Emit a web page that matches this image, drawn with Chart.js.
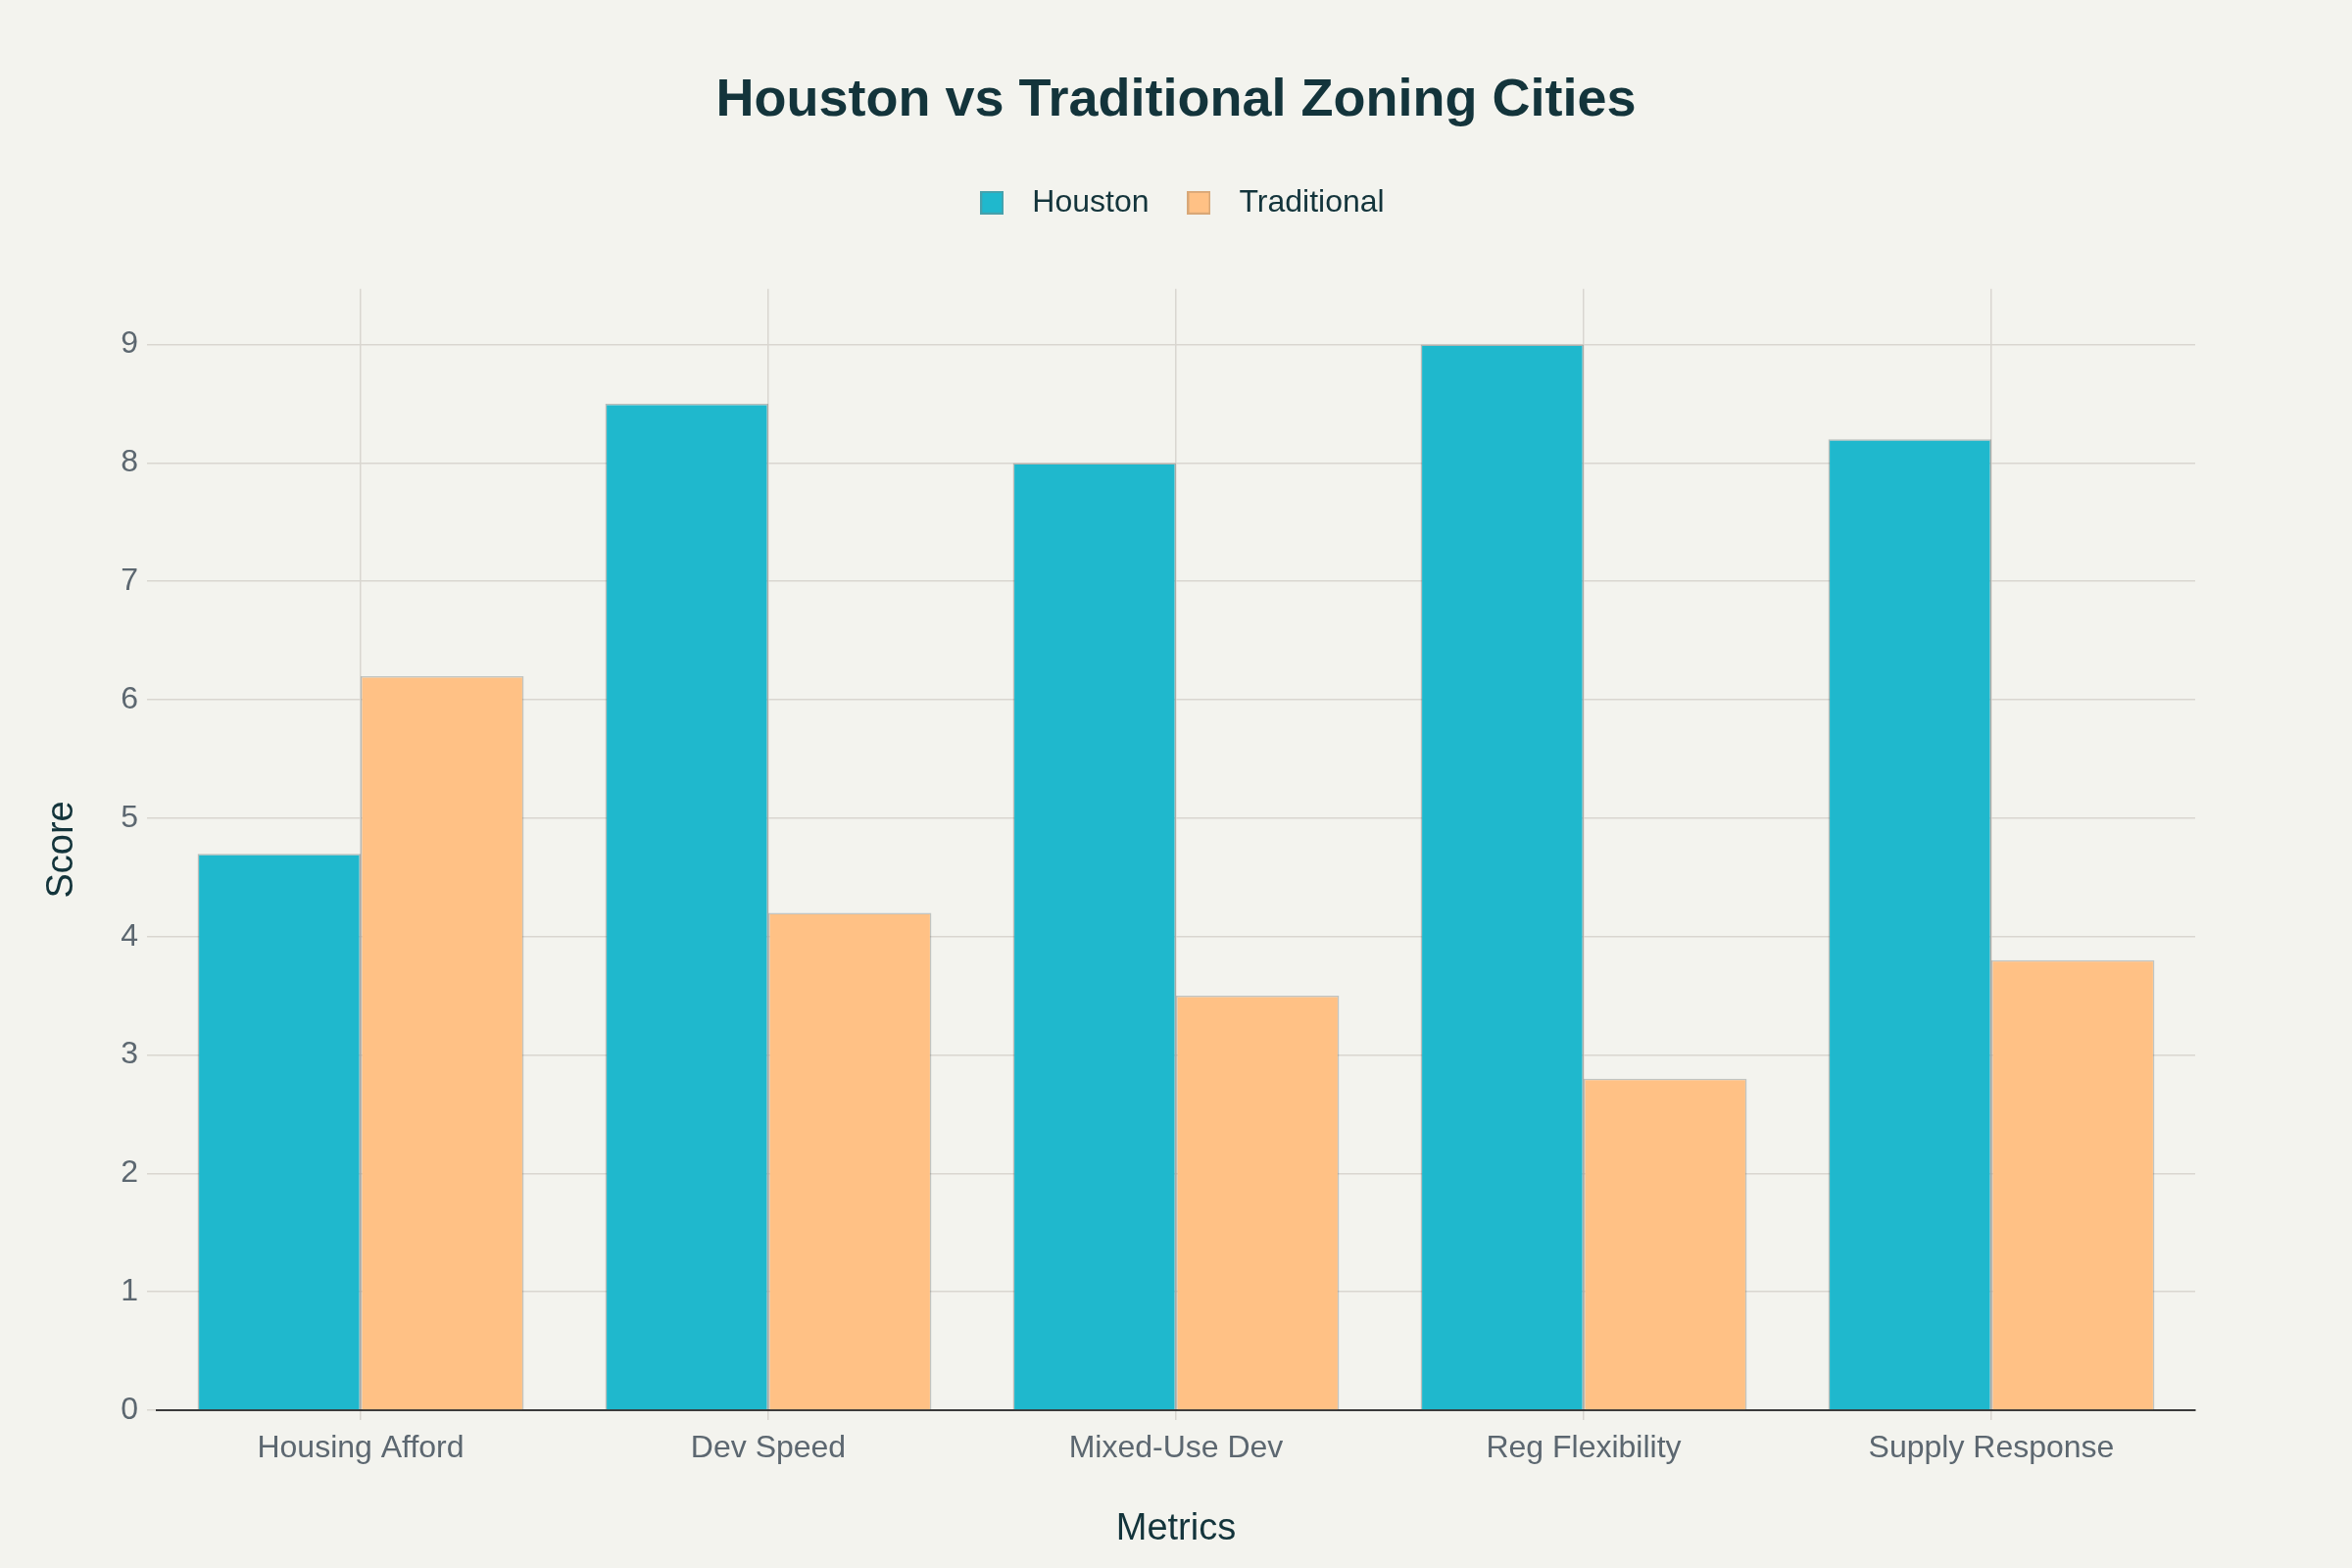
<!DOCTYPE html>
<html>
<head>
<meta charset="utf-8">
<title>Houston vs Traditional Zoning Cities</title>
<script src="https://cdn.jsdelivr.net/npm/chart.js@4.4.1/dist/chart.umd.min.js"></script>
<style>
    html, body { margin: 0; padding: 0; background: #F3F3EE; }
    #wrap { width: 2400px; height: 1600px; }
</style>
</head>
<body>
<div id="wrap"><canvas id="zoningChart" width="2400" height="1600"></canvas></div>
<script>
// Daten
const categories = ["Housing Afford", "Dev Speed", "Mixed-Use Dev", "Reg Flexibility", "Supply Response"];
const houstonScores = [4.7, 8.5, 8.0, 9.0, 8.2];
const traditionalScores = [6.2, 4.2, 3.5, 2.8, 3.8];
const seriesNames = ["Houston", "Traditional"];

const houstonColor = "#1FB8CD";
const traditionalColor = "#FFC185";
const textColor = "#13343B";
const tickColor = "#5C6770";
const gridColor = "#D9D6D0";

// Kleines Quadrat fuer die Legende
function makeSwatch(fill, stroke) {
    const c = document.createElement("canvas");
    c.width = 24;
    c.height = 24;
    const g = c.getContext("2d");
    g.fillStyle = fill;
    g.fillRect(0, 0, 24, 24);
    g.strokeStyle = stroke;
    g.lineWidth = 2;
    g.strokeRect(1, 1, 22, 22);
    return c;
}
const swatches = [
    makeSwatch(houstonColor, "rgba(120,130,130,0.45)"),
    makeSwatch(traditionalColor, "rgba(190,150,110,0.6)")
];

// Hintergrund fuer die ganze Flaeche
const bgPlugin = {
    id: "bgPlugin",
    beforeDraw: function (chart) {
        const ctx = chart.ctx;
        ctx.save();
        ctx.fillStyle = "#F3F3EE";
        ctx.fillRect(0, 0, chart.width, chart.height);
        ctx.restore();
    }
};

// Mehr Abstand unter der Legende
const legendGap = {
    id: "legendGap",
    beforeInit: function (chart) {
        const fit = chart.legend.fit;
        chart.legend.fit = function () {
            fit.bind(chart.legend)();
            this.height += 62;
        };
    }
};

Chart.defaults.font.family = "'Liberation Sans', Arial, sans-serif";

const ctx = document.getElementById("zoningChart");
const zoningChart = new Chart(ctx, {
    type: "bar",
    data: {
        labels: categories,
        datasets: [{
            label: seriesNames[0],
            data: houstonScores,
            backgroundColor: houstonColor,
            borderColor: "rgba(80,90,90,0.35)",
            borderWidth: 1.5,
            categoryPercentage: 0.8,
            barPercentage: 1.0
        }, {
            label: seriesNames[1],
            data: traditionalScores,
            backgroundColor: traditionalColor,
            borderColor: "rgba(80,90,90,0.3)",
            borderWidth: 1.5,
            categoryPercentage: 0.8,
            barPercentage: 1.0
        }]
    },
    options: {
        responsive: false,
        animation: false,
        devicePixelRatio: 1,
        layout: { padding: 0 },
        plugins: {
            title: {
                display: true,
                text: "Houston vs Traditional Zoning Cities",
                color: textColor,
                font: { size: 54, weight: "bold" },
                padding: { top: 71, bottom: 29 }
            },
            legend: {
                display: true,
                labels: {
                    color: textColor,
                    font: { size: 32 },
                    usePointStyle: true,
                    pointStyleWidth: 50,
                    boxHeight: 24,
                    padding: 26,
                    generateLabels: function (chart) {
                        const items = Chart.defaults.plugins.legend.labels.generateLabels(chart);
                        items.forEach(function (item, i) { item.pointStyle = swatches[i]; });
                        return items;
                    }
                }
            },
            tooltip: { enabled: false }
        },
        scales: {
            x: {
                grid: {
                    offset: false,
                    color: gridColor,
                    lineWidth: 1.5,
                    tickLength: 10,
                    drawTicks: true
                },
                border: { display: true, color: "#3A3A3A", width: 2 },
                ticks: { color: tickColor, font: { size: 32 }, padding: 10 },
                title: {
                    display: true,
                    text: "Metrics",
                    color: textColor,
                    font: { size: 38 },
                    padding: { top: 0, bottom: 17 }
                },
                afterFit: function (scale) { scale.height = 161; }
            },
            y: {
                min: 0,
                max: 9.47,
                grid: { color: gridColor, lineWidth: 1.5, tickLength: 10 },
                border: { display: false },
                ticks: { stepSize: 1, color: tickColor, font: { size: 32 }, padding: 9 },
                afterBuildTicks: function (scale) {
                    scale.ticks = scale.ticks.filter(function (t) { return Number.isInteger(t.value); });
                },
                title: {
                    display: true,
                    text: "Score",
                    color: textColor,
                    font: { size: 38 },
                    padding: { top: 41, bottom: 0 }
                },
                afterFit: function (scale) { scale.width = 160; }
            },
            // leere Achse rechts, nur als Rand
            yRight: {
                position: "right",
                grid: { display: false },
                border: { display: false },
                ticks: { display: false },
                afterFit: function (scale) { scale.width = 160; }
            }
        }
    },
    plugins: [bgPlugin, legendGap]
});
</script>
</body>
</html>
